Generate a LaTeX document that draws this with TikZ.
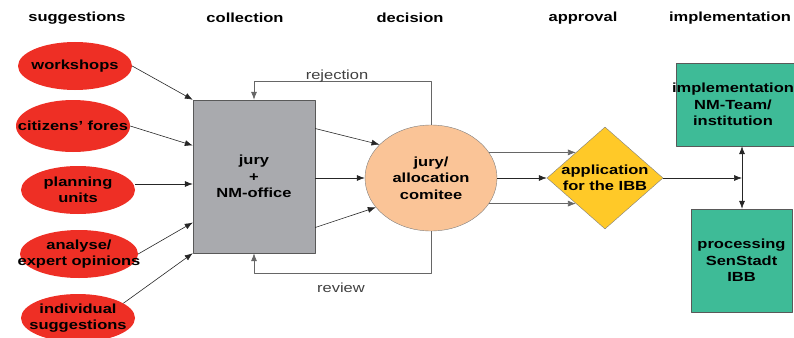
\documentclass[tikz,border=0pt]{standalone}
\usepackage{fontspec}
\setmainfont{Liberation Sans}[FakeStretch=1.25]
\usetikzlibrary{shapes.geometric,arrows.meta}
\definecolor{ideared}{HTML}{EE2F25}
\definecolor{boxgray}{HTML}{A9AAAE}
\definecolor{peach}{HTML}{FAC497}
\definecolor{ibbyellow}{HTML}{FFC928}
\definecolor{teamgreen}{HTML}{3EBB97}
\newcommand{\chartfont}{\fontsize{13.2}{16.5}\selectfont}
\tikzset{
	idea/.style={ellipse,fill=ideared,minimum width=114pt,minimum height=48pt,inner sep=0pt},
	txt/.style={align=center,font=\chartfont\bfseries},
	stage/.style={draw=black!65,inner sep=0pt,txt},
	feed/.style={draw=black!60,line width=0.7pt},
	link/.style={draw=black!85,line width=0.6pt}
}
\begin{document}
\begin{tikzpicture}[x=1pt,y=1pt,line join=round,>={Latex[length=8pt,width=6pt]},font=\chartfont]
	\useasboundingbox (0,0) rectangle (794,-337);
	% column heads
	\node[txt] (hsug) at (77,-18) {suggestions};
	\node[txt] (hcol) at (245,-18) {collection};
	\node[txt] (hdec) at (410,-18) {decision};
	\node[txt] (happ) at (583,-18) {approval};
	\node[txt] (himp) at (730,-18) {implementation};
	% suggestions
	\node[idea,label={[txt]center:workshops}] (ws) at (75,-66) {};
	\node[idea,minimum height=52pt,label={[txt]center:citizens' fores}] (ci) at (73,-126) {};
	\node[idea,label={[txt]center:{planning\\units}}] (pl) at (78,-190) {};
	\node[idea,minimum width=118pt,label={[txt]center:{analyse/\\expert opinions}}] (an) at (79,-254) {};
	\node[idea,label={[txt]center:{individual\\suggestions}}] (in) at (78,-318) {};
	% collection, decision, approval
	\node[stage,fill=boxgray,minimum width=122pt,minimum height=153pt] (jury) at (254,-176.5) {jury\\+\\NM-office};
	\node[ellipse,draw=black!50,fill=peach,minimum width=132pt,minimum height=106pt,inner sep=0pt,txt] (circ) at (431,-178) {jury/\\allocation\\comitee};
	\node[diamond,draw=black!50,fill=ibbyellow,minimum width=116pt,minimum height=102pt,inner sep=0pt,label={[txt]center:{application\\for the IBB}}] (ibb) at (605,-178) {};
	% implementation
	\node[stage,fill=teamgreen,minimum width=120pt,minimum height=83pt,label={[txt,xshift=-3pt]center:{implementation\\NM-Team/\\institution}}] (impl) at (736,-104.5) {};
	\node[stage,fill=teamgreen,minimum width=101pt,minimum height=103pt] (proc) at (741.5,-260.5) {processing\\SenStadt\\IBB};
	\coordinate (hub) at (742,-178);
	% arrows
	\draw[link,->] (ws.east) -- (jury.north west);
	\draw[link,->] (ci.east) -- ([yshift=31pt]jury.west);
	\draw[link,->] ([yshift=6pt]pl.east) -- ([yshift=6pt]pl.east -| jury.west);
	\draw[link,->] (an.east) -- ([yshift=-46pt]jury.west);
	\draw[link,->] (in.18) -- (jury.south west);
	\draw[link,->] ([yshift=48pt]jury.east) -- (circ.147);
	\draw[link,->] (jury.east |- circ.west) -- (circ.west);
	\draw[link,->] ([yshift=-51pt]jury.east) -- (circ.208);
	\draw[feed,->] (circ.north) -- ++(0,43) -| (jury.north);
	\node[text=black!75] (rej) at (337,-76) {rejection};
	\draw[feed,->] (circ.south) -- ++(0,-42) -| (jury.south);
	\node[text=black!75] (rev) at (341,-288) {review};
	\draw[feed,->] (ibb.north west -| circ.24) -- (ibb.north west);
	\draw[link,->] (circ.east) -- (ibb.west);
	\draw[feed,->] (ibb.south west -| circ.-24) -- (ibb.south west);
	\draw[link,->] (ibb.east) -- (hub);
	\draw[link,<->] (hub |- impl.south) -- (hub |- proc.north);
\end{tikzpicture}
\end{document}
